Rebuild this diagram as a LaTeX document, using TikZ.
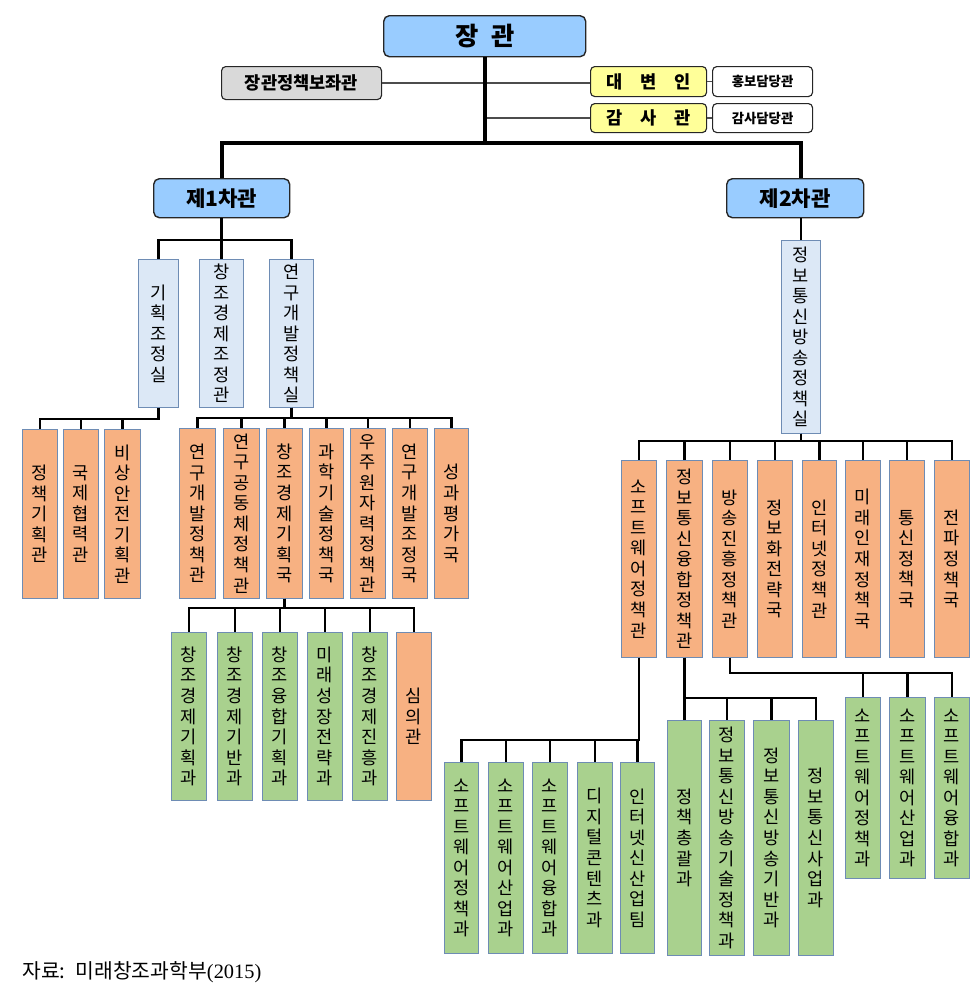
\documentclass[tikz,border=0pt]{standalone}
\usepackage{fontspec}
\setmainfont{Noto Sans CJK KR}
\newfontfamily\serifnum{Liberation Serif}
\definecolor{headblue}{RGB}{153,204,255}
\definecolor{advgray}{RGB}{217,217,217}
\definecolor{spokeyellow}{RGB}{255,255,153}
\definecolor{officeblue}{RGB}{220,232,246}
\definecolor{bureauorange}{RGB}{247,177,130}
\definecolor{teamgreen}{RGB}{169,209,142}
\definecolor{frameblue}{RGB}{110,140,180}

\begin{document}
\begin{tikzpicture}[x=0.025cm,y=-0.025cm,
  cell/.style 2 args={anchor=north west,minimum width=#1*0.025cm,minimum height=#2*0.025cm,inner sep=0pt},
  head node/.style={draw=black!85,rounded corners=4pt,fill=headblue,line width=1pt,font=\fontsize{15}{17}\selectfont\bfseries},
  side node/.style={draw=black!85,rounded corners=3pt,fill=white,line width=0.8pt,font=\fontsize{12.5}{14}\selectfont\bfseries},
  small node/.style={side node,font=\fontsize{9.5}{11}\selectfont\bfseries},
  office node/.style={draw=frameblue,fill=officeblue,line width=0.6pt,align=center,font=\fontsize{12.5}{14.6}\selectfont},
  bureau node/.style={office node,fill=bureauorange},
  team node/.style={office node,fill=teamgreen},
  main link/.style={line width=2.6pt},
  link/.style={line width=2pt},
  thin link/.style={line width=1pt,black!70}]
  \useasboundingbox (0,0) rectangle (977,1000);

  % top level
  \node[head node,cell={202}{41},font=\fontsize{18}{20}\selectfont\bfseries] (minister) at (383,15) {장\hspace{0.5em}관};
  \node[side node,fill=advgray,cell={160}{33}] (advisor) at (221,66) {장관정책보좌관};
  \node[side node,fill=spokeyellow,cell={116}{30}] (spokes) at (590,66) {대\hspace{1em}변\hspace{1em}인};
  \node[small node,cell={100}{30}] (press) at (712,66) {홍보담당관};
  \node[side node,fill=spokeyellow,cell={116}{29}] (audit) at (590,103) {감\hspace{1em}사\hspace{1em}관};
  \node[small node,cell={100}{29}] (auditoff) at (712,103) {감사담당관};

  \node[head node,cell={136}{39}] (vice1) at (153,178) {제1차관};
  \node[head node,cell={137}{39}] (vice2) at (726,178) {제2차관};

  % offices
  \node[office node,cell={40}{148}] (plan) at (138,259) {기\\획\\조\\정\\실};
  \node[office node,cell={44}{148}] (econ) at (199,259) {창\\조\\경\\제\\조\\정\\관};
  \node[office node,cell={44}{148}] (rnd) at (269,259) {연\\구\\개\\발\\정\\책\\실};
  \node[office node,cell={39}{193}] (ict) at (781,240) {정\\보\\통\\신\\방\\송\\정\\책\\실};

  % first vice minister side
  \node[bureau node,cell={35}{169}] (planA) at (22,429) {정\\책\\기\\획\\관};
  \node[bureau node,cell={35}{169}] (planB) at (63,429) {국\\제\\협\\력\\관};
  \node[bureau node,cell={36}{169}] (planC) at (104,429) {비\\상\\안\\전\\기\\획\\관};

  \node[bureau node,cell={36}{170}] (rndA) at (179,428) {연\\구\\개\\발\\정\\책\\관};
  \node[bureau node,cell={36}{170}] (rndB) at (223,428) {연\\구\\공\\동\\체\\정\\책\\관};
  \node[bureau node,cell={36}{170}] (rndC) at (266,428) {창\\조\\경\\제\\기\\획\\국};
  \node[bureau node,cell={34}{170}] (rndD) at (309,428) {과\\학\\기\\술\\정\\책\\국};
  \node[bureau node,cell={35}{170}] (rndE) at (350,428) {우\\주\\원\\자\\력\\정\\책\\관};
  \node[bureau node,cell={35}{170}] (rndF) at (392,428) {연\\구\\개\\발\\조\\정\\국};
  \node[bureau node,cell={34}{170}] (rndG) at (434,428) {성\\과\\평\\가\\국};

  \node[team node,cell={35}{168}] (ecoA) at (171,632) {창\\조\\경\\제\\기\\획\\과};
  \node[team node,cell={35}{168}] (ecoB) at (217,632) {창\\조\\경\\제\\기\\반\\과};
  \node[team node,cell={35}{168}] (ecoC) at (262,632) {창\\조\\융\\합\\기\\획\\과};
  \node[team node,cell={35}{168}] (ecoD) at (307,632) {미\\래\\성\\장\\전\\략\\과};
  \node[team node,cell={35}{168}] (ecoE) at (352,632) {창\\조\\경\\제\\진\\흥\\과};
  \node[bureau node,cell={35}{168}] (ecoF) at (396,632) {심\\의\\관};

  % second vice minister side
  \node[bureau node,cell={35}{197}] (ictA) at (621,460) {소\\프\\트\\웨\\어\\정\\책\\관};
  \node[bureau node,cell={36}{197}] (ictB) at (666,460) {정\\보\\통\\신\\융\\합\\정\\책\\관};
  \node[bureau node,cell={35}{197}] (ictC) at (712,460) {방\\송\\진\\흥\\정\\책\\관};
  \node[bureau node,cell={35}{197}] (ictD) at (757,460) {정\\보\\화\\전\\략\\국};
  \node[bureau node,cell={34}{197}] (ictE) at (802,460) {인\\터\\넷\\정\\책\\관};
  \node[bureau node,cell={35}{197}] (ictF) at (845,460) {미\\래\\인\\재\\정\\책\\국};
  \node[bureau node,cell={35}{197}] (ictG) at (889,460) {통\\신\\정\\책\\국};
  \node[bureau node,cell={35}{197}] (ictH) at (934,460) {전\\파\\정\\책\\국};

  \node[team node,cell={34}{191}] (swA) at (444,762) {소\\프\\트\\웨\\어\\정\\책\\과};
  \node[team node,cell={35}{191}] (swB) at (488,762) {소\\프\\트\\웨\\어\\산\\업\\과};
  \node[team node,cell={35}{191}] (swC) at (532,762) {소\\프\\트\\웨\\어\\융\\합\\과};
  \node[team node,cell={35}{191}] (swD) at (577,762) {디\\지\\털\\콘\\텐\\츠\\과};
  \node[team node,cell={34}{191}] (swE) at (620,762) {인\\터\\넷\\신\\산\\업\\팀};

  \node[team node,cell={34}{235}] (cvA) at (667,720) {정\\책\\총\\괄\\과};
  \node[team node,cell={35}{235}] (cvB) at (709,720) {정\\보\\통\\신\\방\\송\\기\\술\\정\\책\\과};
  \node[team node,cell={36}{235}] (cvC) at (753,720) {정\\보\\통\\신\\방\\송\\기\\반\\과};
  \node[team node,cell={35}{235}] (cvD) at (798,720) {정\\보\\통\\신\\사\\업\\과};

  \node[team node,cell={35}{181}] (brA) at (845,697) {소\\프\\트\\웨\\어\\정\\책\\과};
  \node[team node,cell={36}{181}] (brB) at (889,697) {소\\프\\트\\웨\\어\\산\\업\\과};
  \node[team node,cell={35}{181}] (brC) at (934,697) {소\\프\\트\\웨\\어\\융\\합\\과};

  % bus levels
  \coordinate (topbar) at (0,143);
  \coordinate (bus1) at (0,240);
  \coordinate (busPlan) at (0,419);
  \coordinate (busRnd) at (0,418);
  \coordinate (busEco) at (0,608);
  \coordinate (busIct) at (0,441);
  \coordinate (busSw) at (0,740);
  \coordinate (busCv) at (0,698);
  \coordinate (busBr) at (0,673);

  % connectors
  \draw[thin link] (advisor.east) -- (advisor.east -| spokes.west);
  \draw[thin link] (minister.south |- audit.west) -- (audit.west);
  \draw[thin link] (spokes.east) -- (press.west);
  \draw[thin link] (audit.east) -- (auditoff.west);
  \draw[main link] (minister.south) -- (minister.south |- topbar);
  \draw[main link] (vice1.north) |- (minister.south |- topbar) -| (ict.north |- vice2.north);

  \foreach \c in {plan,econ,rnd}
    \draw[link] (vice1.south) |- (bus1 -| \c.north) -- (\c.north);
  \draw[link] (ict.north |- vice2.south) -- (ict.north);
  \foreach \c in {planA,planB,planC}
    \draw[link] (plan.south) |- (busPlan -| \c.north) -- (\c.north);
  \foreach \c in {rndA,rndB,rndC,rndD,rndE,rndF,rndG}
    \draw[link] (rnd.south) |- (busRnd -| \c.north) -- (\c.north);
  \foreach \c in {ecoA,ecoB,ecoC,ecoD,ecoE,ecoF}
    \draw[link] (rndC.south) |- (busEco -| \c.north) -- (\c.north);
  \foreach \c in {ictA,ictB,ictC,ictD,ictE,ictF,ictG,ictH}
    \draw[link] (ict.south) |- (busIct -| \c.north) -- (\c.north);
  \foreach \c in {swA,swB,swC,swD,swE}
    \draw[link] (ictA.south) |- (busSw -| \c.north) -- (\c.north);
  \foreach \c in {cvA,cvB,cvC,cvD}
    \draw[link] (ictB.south) |- (busCv -| \c.north) -- (\c.north);
  \foreach \c in {brA,brB,brC}
    \draw[link] (ictC.south) |- (busBr -| \c.north) -- (\c.north);

  % source
  \node[anchor=base west,inner sep=0pt,font=\fontsize{14.5}{16}\selectfont] (source) at (22,978) {자료:\hspace{0.5em}미래창조과학부{\serifnum(2015)}};
\end{tikzpicture}
\end{document}
